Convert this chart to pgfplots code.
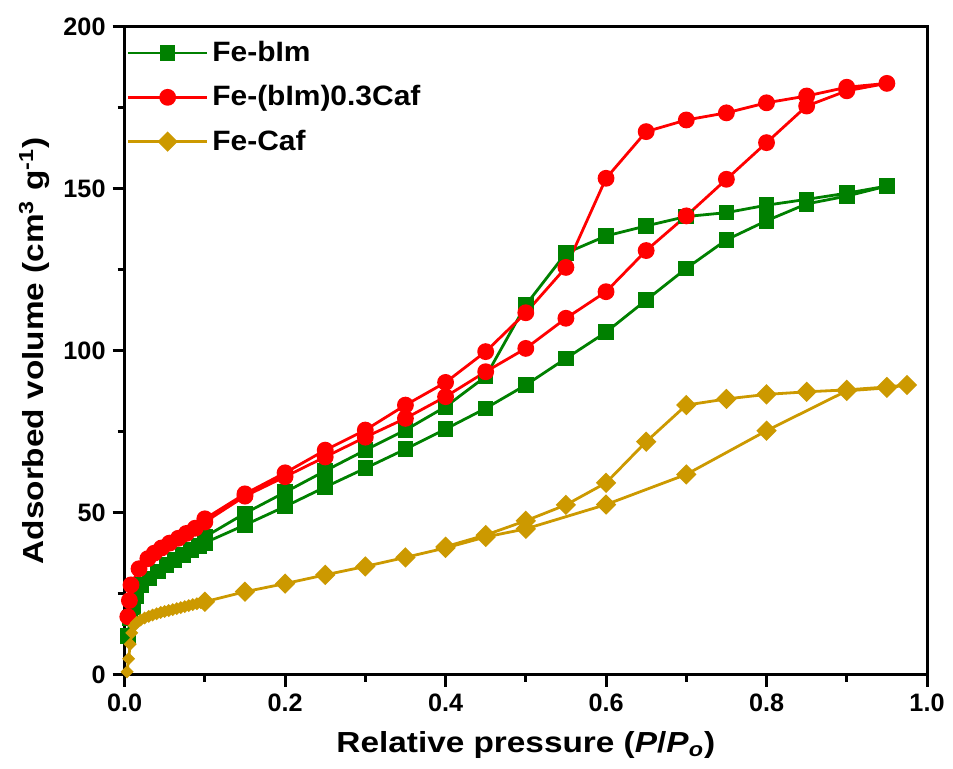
\documentclass[border=0pt]{standalone}
\usepackage{fontspec}
\setmainfont{Liberation Sans}
\newfontfamily\labelfont[FakeStretch=1.15]{Liberation Sans}
\newfontfamily\legfont[FakeStretch=1.07]{Liberation Sans}
\usepackage{pgfplots}
\pgfplotsset{compat=1.18}
\definecolor{cgreen}{RGB}{0,128,0}
\definecolor{cred}{RGB}{255,0,0}
\definecolor{cgold}{RGB}{204,153,0}
\begin{document}
\begin{tikzpicture}
\begin{axis}[
  scale only axis,
  width=401.2pt, height=324pt,
  xmin=0, xmax=1, ymin=0, ymax=200,
  xtick={0,0.2,0.4,0.6,0.8,1.0},
  ytick={0,50,100,150,200},
  minor x tick num=1, minor y tick num=1,
  xtick pos=bottom, ytick pos=left,
  tick align=outside,
  major tick length=6pt, minor tick length=3.5pt,
  axis line style={line width=1.5pt},
  every tick/.style={black, line width=1.5pt},
  /pgf/number format/assume math mode=true,
  tick label style={font=\fontsize{12.6}{14}\selectfont\bfseries},
  xticklabel style={/pgf/number format/.cd, fixed, fixed zerofill, precision=1},
  yticklabel style={/pgf/number format/.cd, fixed, precision=0},
  xlabel={\labelfont\fontsize{14.5}{17}\selectfont\bfseries Relative pressure (\textit{P}/\textit{P}\textsubscript{\textit{o}})},
  xlabel style={yshift=-3pt},
  ylabel={\labelfont\fontsize{14.5}{17}\selectfont\bfseries Adsorbed volume (cm\textsuperscript{3} g\textsuperscript{-1})},
  legend style={at={(0,1)}, anchor=north west, draw=none, fill=none,
    font=\legfont\fontsize{14}{16}\selectfont\bfseries, inner sep=0pt, xshift=1pt, yshift=-5pt,
    row sep=6.5pt},
  legend cell align=left,
  legend image code/.code={\draw[mark repeat=2,mark phase=2] plot coordinates {(0cm,0cm) (0.69cm,0cm) (1.38cm,0cm)};},
  every axis plot/.append style={line width=1.4pt},
]
\addplot[color=cgreen, mark=square*, mark size=3.2pt, mark options={solid}] coordinates {
(0.004,12)(0.007,17.5)(0.011,21)(0.015,24.2)(0.021,27.8)(0.031,29.8)(0.042,31.9)(0.052,34.0)(0.062,35.5)(0.073,37.0)(0.083,38.6)(0.093,39.9)(0.1,40.8)
(0.15,46.3)(0.2,52.0)(0.25,58.0)(0.3,63.8)(0.35,69.7)(0.4,75.9)(0.45,82.3)(0.5,89.5)(0.55,97.7)(0.6,105.8)(0.65,115.7)(0.7,125.5)(0.75,134.3)(0.8,140.2)(0.85,145.4)(0.9,147.8)(0.95,150.9)
(0.9,148.7)(0.85,146.8)(0.8,145.0)(0.75,142.7)(0.7,141.5)(0.65,138.6)(0.6,135.5)(0.55,130.2)(0.5,114.2)(0.45,92.1)(0.4,82.8)(0.35,75.6)(0.3,69.4)(0.25,63.0)(0.2,56.4)(0.15,49.9)(0.1,42.6)
};
\addlegendentry{Fe-bIm}
\addplot[color=cred, mark=*, mark size=3.5pt, mark options={solid}] coordinates {
(0.004,18)(0.006,23)(0.008,27.8)(0.018,32.8)(0.029,35.9)(0.037,37.6)(0.046,39.2)(0.056,40.7)(0.067,42.2)(0.077,43.7)(0.088,45.3)(0.1,47.2)
(0.15,55.2)(0.2,61.2)(0.25,67.3)(0.3,73.4)(0.35,79.2)(0.4,85.9)(0.45,93.6)(0.5,100.8)(0.55,110.1)(0.6,118.3)(0.65,131.0)(0.7,141.7)(0.75,153.0)(0.8,164.3)(0.85,175.6)(0.9,180.3)(0.95,182.6)
(0.9,181.4)(0.85,178.7)(0.8,176.6)(0.75,173.5)(0.7,171.3)(0.65,167.7)(0.6,153.3)(0.55,125.8)(0.5,111.8)(0.45,99.8)(0.4,90.3)(0.35,83.3)(0.3,75.6)(0.25,69.4)(0.2,62.4)(0.15,55.9)(0.1,48.2)
};
\addlegendentry{Fe-(bIm)0.3Caf}
\addplot[color=cgold, mark=square*, mark size=2.9pt, mark options={solid, rotate=45}] coordinates {
(0.1,22.6)(0.15,25.7)(0.2,28.2)(0.25,30.9)(0.3,33.5)(0.35,36.3)(0.4,39.2)(0.45,42.6)(0.5,45.1)(0.6,52.6)(0.7,61.9)(0.8,75.4)(0.9,87.7)(0.95,88.6)(0.975,89.5)
(0.95,88.9)(0.9,88.0)(0.85,87.4)(0.8,86.6)(0.75,85.2)(0.7,83.3)(0.65,72.0)(0.6,59.3)(0.55,52.5)(0.5,47.6)(0.45,43.2)(0.4,39.6)
};
\addlegendentry{Fe-Caf}
\addplot[forget plot, color=cgold, mark=square*, mark size=1.6pt, mark options={solid, rotate=45}] coordinates {
(0.003,1)(0.005,5)(0.007,9.5)(0.009,13)(0.012,15.2)(0.015,16.2)(0.02,17)(0.025,17.6)(0.03,18.1)(0.035,18.5)(0.04,18.9)(0.045,19.3)(0.05,19.6)(0.055,19.9)(0.06,20.2)(0.065,20.5)(0.07,20.8)(0.075,21.1)(0.08,21.4)(0.085,21.7)(0.09,22.0)(0.095,22.3)(0.1,22.6)
};
\end{axis}
\path (current axis.south west) ++(-62.3pt,-47pt) rectangle ++(476.5pt,384.5pt);
\end{tikzpicture}
\end{document}
